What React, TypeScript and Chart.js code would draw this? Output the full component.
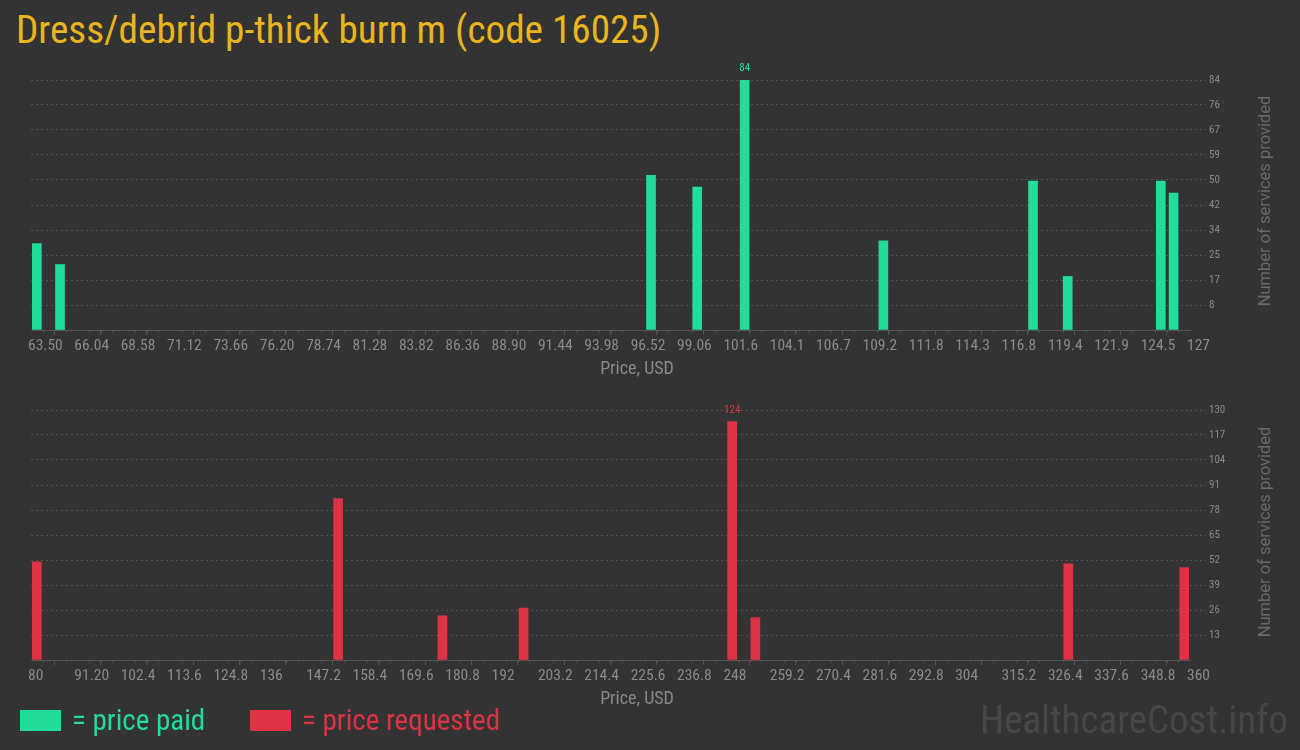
import React, { useEffect, useRef } from 'react';
import { Chart, registerables } from 'chart.js';

Chart.register(...registerables);

const TITLE = 'Dress/debrid p-thick burn m (code 16025)';
const X_TITLE = 'Price, USD';
const Y_TITLE = 'Number of services provided';

// price paid histogram
const paidPrices = [63.82, 65.09, 97.47, 100.0, 102.6, 110.2, 118.4, 120.3, 125.4, 126.1];
const paidCounts = [29, 22, 52, 48, 84, 30, 50, 18, 50, 46];
const paidXMin = 63.5;
const paidXMax = 127;
const paidXTickLabels = ['63.50', '66.04', '68.58', '71.12', '73.66', '76.20', '78.74', '81.28', '83.82', '86.36', '88.90', '91.44', '93.98', '96.52', '99.06', '101.6', '104.1', '106.7', '109.2', '111.8', '114.3', '116.8', '119.4', '121.9', '124.5', '127'];
const paidYMax = 84;
const paidYTickLabels = ['8', '17', '25', '34', '42', '50', '59', '67', '76', '84'];

// price requested histogram
const reqPrices = [81.4, 154.2, 179.4, 199.0, 249.4, 255.0, 330.6, 358.6];
const reqCounts = [51, 84, 23, 27, 124, 22, 50, 48];
const reqXMin = 80;
const reqXMax = 360;
const reqXTickLabels = ['80', '91.20', '102.4', '113.6', '124.8', '136', '147.2', '158.4', '169.6', '180.8', '192', '203.2', '214.4', '225.6', '236.8', '248', '259.2', '270.4', '281.6', '292.8', '304', '315.2', '326.4', '337.6', '348.8', '360'];
const reqYMax = 130;
const reqYTickLabels = ['13', '26', '39', '52', '65', '78', '91', '104', '117', '130'];

const GREEN = '#22dd9a';
const RED = '#dd3344';
const BG = '#333333';
const GRID = '#545454';
const TICK_TEXT = '#8a8a8a';
const NARROW = "'Roboto Condensed', 'Liberation Sans Narrow', 'DejaVu Sans Condensed', sans-serif";
const COND = "'Roboto Condensed', Roboto, sans-serif";

const MINOR_PER_MAJOR = 4;

function makeConfig(
  prices: number[],
  counts: number[],
  xMin: number,
  xMax: number,
  xLabels: string[],
  yMax: number,
  yLabels: string[],
  color: string
): any {
  const nMajor = xLabels.length - 1;
  const majorStep = (xMax - xMin) / nMajor;
  const nY = yLabels.length;
  const yStep = yMax / nY;

  const minorTicks = {
    id: 'minorTicks',
    afterDraw(chart: any) {
      const xs = chart.scales.x;
      const ctx = chart.ctx;
      const bottom = chart.chartArea.bottom;
      ctx.save();
      ctx.strokeStyle = GRID;
      ctx.lineWidth = 1;
      const n = nMajor * MINOR_PER_MAJOR;
      for (let k = 0; k <= n; k++) {
        if (k % MINOR_PER_MAJOR === 0) continue;
        const v = xMin + (k * (xMax - xMin)) / n;
        const px = Math.round(xs.getPixelForValue(v)) + 0.5;
        ctx.beginPath();
        ctx.moveTo(px, bottom);
        ctx.lineTo(px, bottom + 2.5);
        ctx.stroke();
      }
      ctx.restore();
    },
  };

  const maxLabel = {
    id: 'maxLabel',
    afterDatasetsDraw(chart: any) {
      const ds = chart.data.datasets[0];
      const vals = ds.data.map((d: any) => d.y);
      const mx = Math.max(...vals);
      const idx = vals.indexOf(mx);
      const el = chart.getDatasetMeta(0).data[idx];
      if (!el) return;
      const ctx = chart.ctx;
      ctx.save();
      ctx.fillStyle = color;
      ctx.font = `11px ${NARROW}`;
      ctx.textAlign = 'center';
      ctx.textBaseline = 'bottom';
      ctx.fillText(String(mx), el.x, el.y - 6);
      ctx.restore();
    },
  };

  return {
    type: 'bar',
    data: {
      datasets: [
        {
          data: prices.map((p, i) => ({ x: p, y: counts[i] })),
          backgroundColor: color,
          borderWidth: 0,
          barThickness: 9,
        },
      ],
    },
    options: {
      animation: false,
      responsive: false,
      maintainAspectRatio: false,
      layout: { padding: { left: 31, top: 25, right: 0, bottom: 0 } },
      plugins: {
        legend: { display: false },
        tooltip: { enabled: false },
        title: { display: false },
      },
      scales: {
        x: {
          type: 'linear',
          min: xMin,
          max: xMax,
          offset: false,
          afterFit(scale: any) {
            scale.height = 55;
          },
          afterBuildTicks(scale: any) {
            scale.ticks = xLabels.map((_, i) => ({ value: xMin + i * majorStep }));
          },
          ticks: {
            autoSkip: false,
            maxRotation: 0,
            minRotation: 0,
            align: 'start',
            labelOffset: -3,
            padding: 2,
            color: TICK_TEXT,
            font: { family: NARROW, size: 15.5 },
            callback: (_v: any, i: number) => xLabels[i],
          },
          grid: {
            display: true,
            drawOnChartArea: false,
            drawTicks: true,
            tickLength: 5,
            tickColor: GRID,
            color: GRID,
          },
          border: { display: true, color: GRID, width: 1 },
          title: { display: false },
        },
        y: {
          type: 'linear',
          position: 'right',
          min: 0,
          max: yMax,
          afterFit(scale: any) {
            scale.width = 110;
          },
          afterBuildTicks(scale: any) {
            const t = [{ value: 0 }];
            for (let i = 1; i <= nY; i++) t.push({ value: i * yStep });
            scale.ticks = t;
          },
          ticks: {
            color: TICK_TEXT,
            padding: 3,
            font: { family: NARROW, size: 11 },
            callback: (_v: any, i: number) => (i === 0 ? '' : yLabels[i - 1]),
          },
          grid: {
            drawTicks: true,
            tickLength: 16,
            color: (c: any) => (c.index === 0 ? 'rgba(0,0,0,0)' : GRID),
            tickColor: (c: any) => (c.index === 0 ? 'rgba(0,0,0,0)' : GRID),
            borderDash: [2, 3],
            tickBorderDash: [2, 3],
          },
          border: { display: false, dash: [2, 3] },
        },
      },
    },
    plugins: [minorTicks, maxLabel],
  };
}

function HistChart(props: { config: any; top: number }) {
  const ref = useRef<HTMLCanvasElement | null>(null);
  useEffect(() => {
    if (!ref.current) return;
    const chart = new Chart(ref.current, props.config);
    return () => chart.destroy();
  }, []);
  return (
    <div style={{ position: 'absolute', left: 0, top: props.top, width: 1300, height: 330 }}>
      <canvas ref={ref} width={1300} height={330} style={{ width: 1300, height: 330, display: 'block' }} />
    </div>
  );
}

function YTitle(props: { cy: number }) {
  return (
    <div
      style={{
        position: 'absolute',
        left: 1265,
        top: props.cy,
        transform: 'translate(-50%, -50%) rotate(-90deg)',
        whiteSpace: 'nowrap',
        color: '#6a6a6a',
        fontFamily: 'Roboto, sans-serif',
        fontSize: 16.5,
        lineHeight: '20px',
      }}
    >
      {Y_TITLE}
    </div>
  );
}

function XTitle(props: { cy: number }) {
  return (
    <div
      style={{
        position: 'absolute',
        left: 637,
        top: props.cy,
        transform: 'translate(-50%, -50%)',
        whiteSpace: 'nowrap',
        color: '#888888',
        fontFamily: COND,
        fontSize: 18,
        lineHeight: '22px',
      }}
    >
      {X_TITLE}
    </div>
  );
}

const legendText: any = {
  position: 'absolute',
  top: 703,
  fontFamily: COND,
  fontSize: 29,
  lineHeight: '34px',
  whiteSpace: 'nowrap',
};

export default function App() {
  useEffect(() => {
    document.body.style.margin = '0';
    document.body.style.background = BG;
  }, []);

  const paidConfig = makeConfig(paidPrices, paidCounts, paidXMin, paidXMax, paidXTickLabels, paidYMax, paidYTickLabels, GREEN);
  const reqConfig = makeConfig(reqPrices, reqCounts, reqXMin, reqXMax, reqXTickLabels, reqYMax, reqYTickLabels, RED);

  return (
    <div style={{ position: 'fixed', left: 0, top: 0, width: 1300, height: 750, background: BG, overflow: 'hidden' }}>
      <div
        style={{
          position: 'absolute',
          left: 16,
          top: 7,
          color: '#e9b51f',
          fontFamily: COND,
          fontSize: 39.2,
          lineHeight: '46px',
          whiteSpace: 'nowrap',
        }}
      >
        {TITLE}
      </div>
      <HistChart config={paidConfig} top={55} />
      <HistChart config={reqConfig} top={385} />
      <YTitle cy={201} />
      <YTitle cy={532} />
      <XTitle cy={368} />
      <XTitle cy={698} />
      <div style={{ position: 'absolute', left: 20, top: 710, width: 41, height: 21, background: GREEN }} />
      <div style={{ ...legendText, left: 72, color: GREEN }}>= price paid</div>
      <div style={{ position: 'absolute', left: 250, top: 710, width: 41, height: 21, background: RED }} />
      <div style={{ ...legendText, left: 302, color: RED }}>= price requested</div>
      <div
        style={{
          position: 'absolute',
          right: 12,
          top: 697,
          color: '#474747',
          fontFamily: COND,
          fontSize: 39,
          lineHeight: '46px',
          whiteSpace: 'nowrap',
        }}
      >
        HealthcareCost.info
      </div>
    </div>
  );
}
